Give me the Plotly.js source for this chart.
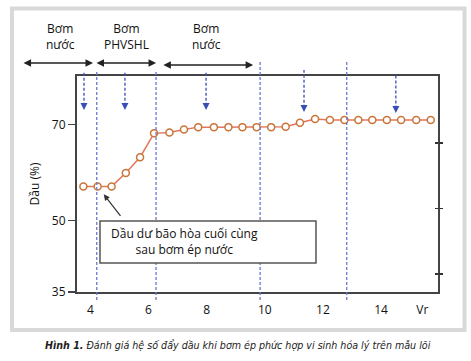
<!DOCTYPE html>
<html>
<head>
<meta charset="utf-8">
<script src="https://cdn.plot.ly/plotly-3.0.1.min.js"></script>
<style>
  html, body { margin: 0; padding: 0; background: #ffffff; }
  #chart { width: 471px; height: 361px; }
</style>
</head>
<body>
<div id="chart"></div>
<script>
// ---- data ----
const vr = [3.76, 4.25, 4.73, 5.22, 5.71, 6.19, 6.72, 7.22, 7.71, 8.25, 8.75, 9.23, 9.72,
            10.22, 10.72, 11.21, 11.73, 12.24, 12.74, 13.22, 13.70, 14.20, 14.69, 15.21, 15.71];
const oil = [57.1, 57.1, 57.1, 59.9, 63.2, 68.2, 68.4, 69.0, 69.5, 69.5, 69.5, 69.5, 69.5,
             69.5, 69.6, 70.4, 71.2, 71.0, 71.0, 71.0, 71.0, 71.0, 71.0, 71.0, 71.0];

const xTickVals = [4, 6, 8, 10, 12, 14, 15.42];
const xTickText = ['4', '6', '8', '10', '12', '14', 'Vr'];
const yTickVals = [35, 50, 70];
const yTickText = ['35', '50', '70'];
const rightTickVals = [1, 2, 3];

// stage boundaries (blue dashed lines) and sampling arrows (blue dashed arrows)
const stageLines = [4.22, 6.26, 9.84, 12.82];
const sampleArrows = [3.78, 5.19, 7.98, 11.35, 14.51];

// injection phases (double arrows on top)
const phaseStart = [1.65, 4.16, 6.46];
const phaseEnd = [4.09, 6.26, 9.60];
const phaseLabels = ['Bơm<br>nước', 'Bơm<br>PHVSHL', 'Bơm<br>nước'];

const noteText = 'Dầu dư bão hòa cuối cùng<br>sau bơm ép nước';
const noteIndex = 1;
const captionText = '<b><i>Hình 1.</i></b><i> Đánh giá hệ số đẩy dầu khi bơm ép phức hợp vi sinh hóa lý trên mẫu lõi</i>';

// ---- layout helpers (positions/styles) ----
const lineTops = [1.028, 1.028, 1.074, 1.074];
const phaseY = [1.060, 1.060, 1.051];
const phaseLabelX = [-0.047, 0.1385, 0.360];
const arrowTop = [1.0185, 1.0185, 1.0185, 1.028, 1.009];
const arrowBot = [0.8426, 0.8426, 0.8426, 0.833, 0.829];

const BLUE_LINE = '#6a78d2';
const BLUE_ARROW = '#3a4fb5';
const FONT = 'Open Sans, Noto Sans, sans-serif';

const shapes = [];
// outer light-grey frame
shapes.push({type: 'rect', xref: 'paper', yref: 'paper', x0: -0.18, x1: 1.0734, y0: -0.1759, y1: 1.3125,
             line: {color: '#d9d9d9', width: 4}, fillcolor: 'rgba(0,0,0,0)', layer: 'below'});
stageLines.forEach((v, i) => {
  shapes.push({type: 'line', xref: 'x', yref: 'paper', x0: v, x1: v, y0: -0.037, y1: lineTops[i],
               line: {color: BLUE_LINE, width: 1.3, dash: '3px,2px'}, layer: 'above'});
});
sampleArrows.forEach((v, i) => {
  shapes.push({type: 'line', xref: 'x', yref: 'paper', x0: v, x1: v, y0: arrowBot[i] + 0.02, y1: arrowTop[i],
               line: {color: BLUE_ARROW, width: 1.3, dash: '3px,2px'}, layer: 'above'});
});
// note box (white, covers the dashed lines)
shapes.push({type: 'rect', xref: 'paper', yref: 'paper', x0: 0.0637, x1: 0.662, y0: 0.134, y1: 0.329,
             line: {color: '#555', width: 1.5}, fillcolor: '#ffffff', layer: 'above'});

const annotations = [];
sampleArrows.forEach((v, i) => {
  annotations.push({xref: 'x', yref: 'paper', x: v, y: arrowBot[i], text: '', showarrow: true,
                    ax: 0, ay: -7, arrowhead: 2, arrowsize: 1, arrowwidth: 1.4, arrowcolor: BLUE_ARROW});
});
phaseStart.forEach((s, i) => {
  annotations.push({xref: 'x', yref: 'paper', axref: 'x', ayref: 'paper', x: phaseEnd[i], y: phaseY[i],
                    ax: s, ay: phaseY[i], text: '', showarrow: true, arrowside: 'end+start',
                    arrowhead: 2, startarrowhead: 2, arrowsize: 1, startarrowsize: 1, arrowwidth: 1.5, arrowcolor: '#222'});
  annotations.push({xref: 'paper', yref: 'paper', x: phaseLabelX[i], y: 1.185, xanchor: 'center', yanchor: 'middle',
                    text: phaseLabels[i], showarrow: false, font: {family: FONT, size: 12, color: '#111'}, align: 'center'});
});
// note arrow + text
annotations.push({xref: 'x', yref: 'y', x: vr[noteIndex], y: oil[noteIndex], text: '', showarrow: true,
                  ax: 24, ay: 31, standoff: 10, arrowhead: 2, arrowsize: 1, arrowwidth: 1.2, arrowcolor: '#333'});
annotations.push({xref: 'paper', yref: 'paper', x: 0.299, y: 0.234, xanchor: 'center', yanchor: 'middle',
                  text: noteText, showarrow: false, align: 'center',
                  font: {family: FONT, size: 12, color: '#111'}});
// caption
annotations.push({xref: 'paper', yref: 'paper', x: (238 - 77) / 361, y: (292 - 345) / 216, xanchor: 'center', yanchor: 'middle',
                  text: captionText, showarrow: false,
                  font: {family: 'Liberation Sans Narrow, DejaVu Sans Condensed, sans-serif', size: 10.6, color: '#222'}});

const traces = [{
  type: 'scatter', mode: 'lines+markers', x: vr, y: oil,
  line: {color: '#e2775c', width: 1.5},
  marker: {symbol: 'circle', size: 7, color: '#ffffff', line: {color: '#c8753a', width: 1.5}},
  hoverinfo: 'skip', showlegend: false
}, {
  type: 'scatter', mode: 'markers', x: [], y: [], yaxis: 'y2', hoverinfo: 'skip', showlegend: false
}, {
  type: 'scatter', mode: 'markers', x: [], y: [], yaxis: 'y3', hoverinfo: 'skip', showlegend: false
}];

const axisCommon = {showgrid: false, zeroline: false, showline: true, linecolor: '#444', linewidth: 2, mirror: true,
                    tickfont: {family: FONT, size: 12, color: '#111'}};

const layout = {
  width: 471, height: 361,
  margin: {l: 77, r: 33, t: 76, b: 69},
  paper_bgcolor: '#ffffff', plot_bgcolor: '#ffffff',
  showlegend: false,
  xaxis: Object.assign({}, axisCommon, {range: [3.54, 15.96], tickmode: 'array', tickvals: xTickVals, ticktext: xTickText,
                        ticks: '', ticklabelstandoff: 6}),
  yaxis: Object.assign({}, axisCommon, {range: [35, 80.2], tickmode: 'array', tickvals: yTickVals, ticktext: yTickText,
                        ticks: 'outside', ticklen: 7, tickcolor: '#444', tickwidth: 1.5,
                        title: {text: 'Dầu (%)', font: {family: FONT, size: 12, color: '#111'}, standoff: 10}}),
  yaxis2: {overlaying: 'y', side: 'right', range: [0.725, 4.02], tickmode: 'array', tickvals: rightTickVals,
           showticklabels: false, ticks: 'outside', ticklen: 4, tickwidth: 1.5, tickcolor: '#333',
           showgrid: false, zeroline: false, showline: false},
  yaxis3: {overlaying: 'y', side: 'right', range: [0.725, 4.02], tickmode: 'array', tickvals: rightTickVals,
           showticklabels: false, ticks: 'inside', ticklen: 3, tickwidth: 1.5, tickcolor: '#333',
           showgrid: false, zeroline: false, showline: false},
  shapes: shapes,
  annotations: annotations
};

Plotly.newPlot('chart', traces, layout, {staticPlot: true, displayModeBar: false});
</script>
</body>
</html>
